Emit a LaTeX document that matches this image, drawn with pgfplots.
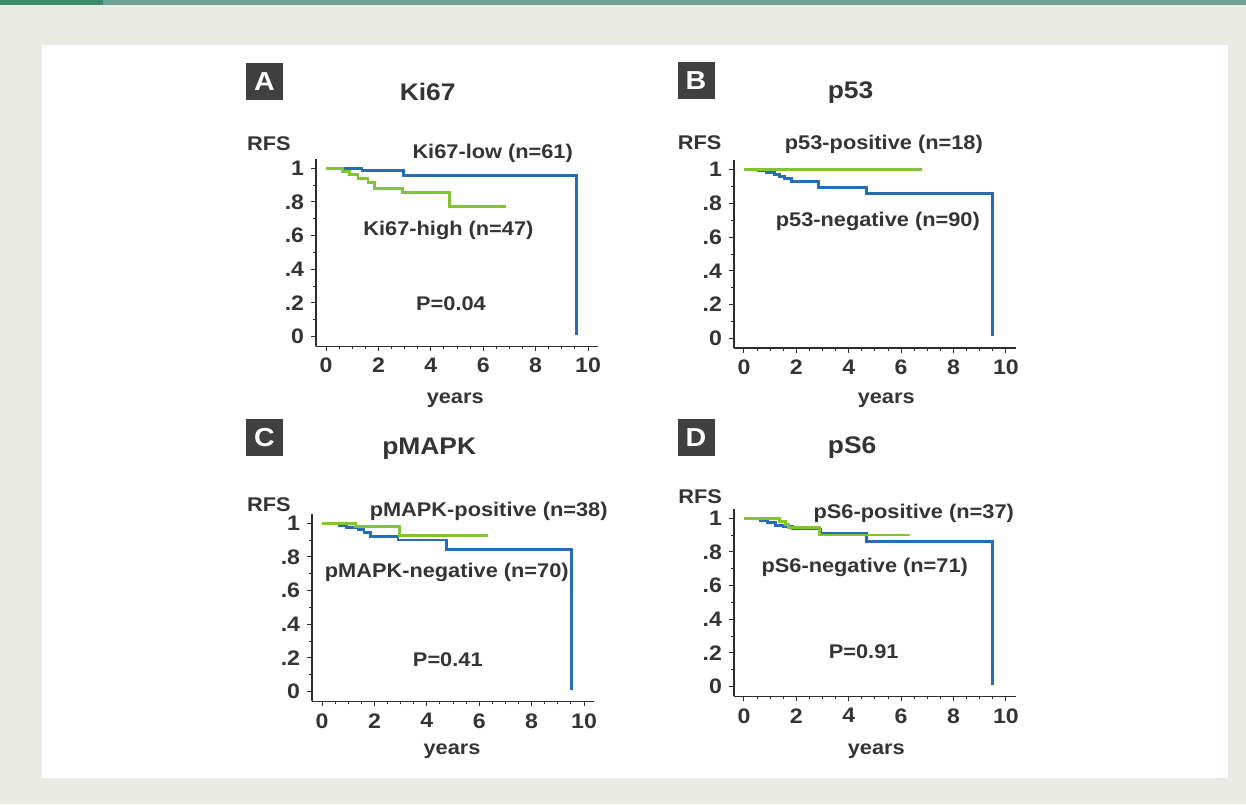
\documentclass[border=0pt]{standalone}
\usepackage{fontspec}
\setmainfont[FakeStretch=1.1]{Liberation Sans}
\usepackage{pgfplots}
\pgfplotsset{compat=1.18}
\definecolor{kmblue}{RGB}{38,108,182}
\definecolor{kmgreen}{RGB}{130,196,50}
\definecolor{bgtex}{RGB}{232,234,227}
\definecolor{tealA}{RGB}{62,138,110}
\definecolor{tealB}{RGB}{106,162,150}
\definecolor{boxgray}{RGB}{64,64,64}
\definecolor{axgray}{RGB}{45,45,45}
\definecolor{txtgray}{RGB}{52,52,52}

\pgfplotsset{
 kmaxis/.style={
  scale only axis, width=281.9pt, height=187.4pt,
  xmin=-0.38, xmax=10.38, ymin=-0.057, ymax=1.055,
  axis x line*=bottom, axis y line*=left,
  axis line style={-, axgray, line width=1.3pt},
  every tick/.style={axgray, line width=1pt},
  tick align=outside,
  major tick length=5pt, minor tick length=3pt,
  xtick={0,2,...,10}, minor x tick num=3,
  ytick={0,0.2,0.4,0.6,0.8,1}, yticklabels={0,.2,.4,.6,.8,1}, minor y tick num=1,
  tick label style={font=\fontsize{21}{24}\selectfont\bfseries, text=txtgray},
  xticklabel style={yshift=-3.5pt},
  yticklabel style={xshift=-3.5pt},
  /pgf/number format/assume math mode=true,
  clip=false,
  anchor=south west,
 },
 km/.style={const plot, line width=2.9pt, line join=miter, mark=none},
}
\tikzset{
 ann/.style={font=\fontsize{19.8}{22}\selectfont\bfseries, text=txtgray, anchor=base, inner sep=0pt},
 ttl/.style={font=\fontsize{24}{26}\selectfont\bfseries, text=txtgray, anchor=base, inner sep=0pt},
 lbox/.style={fill=boxgray, text=white, minimum width=37pt, minimum height=37pt, inner sep=0pt, font=\fontsize{26}{28}\selectfont\bfseries},
}

\begin{document}
\begin{tikzpicture}
\fill[bgtex] (0pt,0pt) rectangle (1246pt,804pt);
\fill[tealB] (0pt,799pt) rectangle (1246pt,804pt);
\fill[tealA] (0pt,799pt) rectangle (103pt,804pt);
\fill[white] (42pt,26pt) rectangle (1228pt,759pt);

% Panel A
\begin{axis}[kmaxis, at={(316.1pt,457.7pt)}]
\addplot[km, kmblue] coordinates {(0,1) (1.37,0.985) (2.94,0.955) (9.55,0.955) (9.55,0.01)};
\addplot[km, kmgreen] coordinates {(0,1) (0.62,0.98) (0.9,0.96) (1.22,0.94) (1.6,0.915) (1.86,0.88) (2.92,0.856) (4.72,0.77) (6.88,0.77)};
\node[lbox] at (axis cs:-2.35,1.516) {A};
\node[ttl] at (axis cs:3.88,1.40) {Ki67};
\node[ann] at (axis cs:-2.18,1.105) {RFS};
\node[ann] at (axis cs:6.36,1.056) {Ki67-low (n=61)};
\node[ann] at (axis cs:4.67,0.602) {Ki67-high (n=47)};
\node[ann] at (axis cs:4.77,0.158) {P=0.04};
\node[ann] at (axis cs:4.93,-0.394) {years};
\end{axis}

% Panel B
\begin{axis}[kmaxis, at={(734pt,456.1pt)}]
\addplot[km, kmblue] coordinates {(0,1) (0.57,0.994) (0.85,0.984) (1.17,0.972) (1.36,0.96) (1.55,0.947) (1.8,0.93) (2.85,0.897) (4.66,0.857) (9.47,0.857) (9.47,0.014)};
\addplot[km, kmgreen] coordinates {(0,1) (6.81,1)};
\node[lbox] at (axis cs:-1.83,1.532) {B};
\node[ttl] at (axis cs:4.07,1.42) {p53};
\node[ann] at (axis cs:-1.69,1.123) {RFS};
\node[ann] at (axis cs:5.34,1.119) {p53-positive (n=18)};
\node[ann] at (axis cs:5.11,0.663) {p53-negative (n=90)};
\node[ann] at (axis cs:5.43,-0.386) {years};
\end{axis}

% Panel C
\begin{axis}[kmaxis, at={(312.1pt,102.7pt)}]
\addplot[km, kmblue] coordinates {(0,1) (0.65,0.987) (0.94,0.975) (1.37,0.962) (1.6,0.947) (1.84,0.922) (2.9,0.9) (4.75,0.844) (9.53,0.844) (9.53,0.01)};
\addplot[km, kmgreen] coordinates {(0,1) (1.26,0.978) (2.95,0.929) (6.35,0.929)};
\node[lbox] at (axis cs:-2.20,1.507) {C};
\node[ttl] at (axis cs:4.09,1.409) {pMAPK};
\node[ann] at (axis cs:-2.03,1.071) {RFS};
\node[ann] at (axis cs:6.36,1.038) {pMAPK-positive (n=38)};
\node[ann] at (axis cs:4.76,0.675) {pMAPK-negative (n=70)};
\node[ann] at (axis cs:4.80,0.149) {P=0.41};
\node[ann] at (axis cs:4.96,-0.373) {years};
\end{axis}

% Panel D
\begin{axis}[kmaxis, at={(734pt,107.7pt)}]
\addplot[km, kmblue] coordinates {(0,1) (0.63,0.986) (0.89,0.972) (1.21,0.958) (1.52,0.948) (1.84,0.936) (2.94,0.911) (4.69,0.862) (9.49,0.862) (9.49,0.01)};
\addplot[km, kmgreen] coordinates {(0,1) (1.37,0.982) (1.6,0.962) (1.7,0.946) (2.89,0.9) (6.32,0.9)};
\node[lbox] at (axis cs:-1.83,1.48) {D};
\node[ttl] at (axis cs:4.13,1.386) {pS6};
\node[ann] at (axis cs:-1.67,1.089) {RFS};
\node[ann] at (axis cs:6.48,0.996) {pS6-positive (n=37)};
\node[ann] at (axis cs:4.61,0.679) {pS6-negative (n=71)};
\node[ann] at (axis cs:4.57,0.169) {P=0.91};
\node[ann] at (axis cs:5.05,-0.401) {years};
\end{axis}
\end{tikzpicture}
\end{document}
